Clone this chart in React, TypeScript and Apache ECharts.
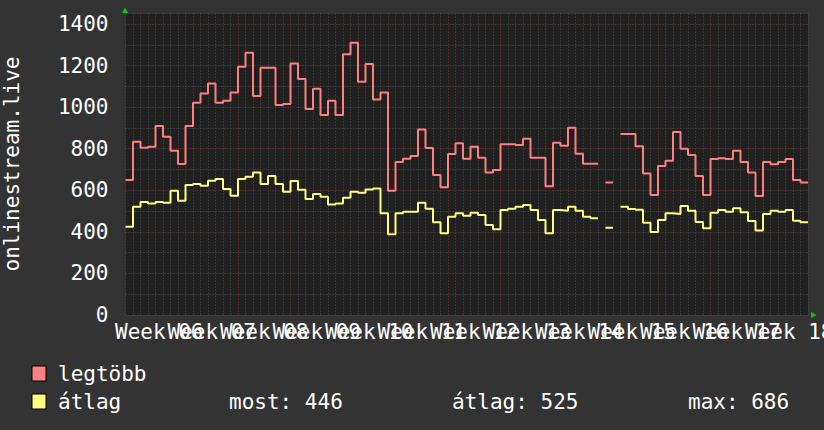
import React, { useEffect, useRef } from "react";
import * as echarts from "echarts";

// daily values, one per day (null = no data)
const legtobb: (number | null)[] = [
  650, 834, 805, 810, 909, 858, 790, 726, 909, 1021,
  1066, 1114, 1021, 1031, 1071, 1194, 1262, 1053, 1190, 1190,
  1010, 1015, 1210, 1135, 991, 1089, 962, 1031, 962, 1255,
  1310, 1122, 1207, 1037, 1071, 598, 736, 752, 765, 893,
  803, 673, 614, 774, 826, 752, 810, 757, 686, 697,
  822, 822, 818, 848, 757, 757, 620, 829, 814, 901,
  776, 728, 728, null, 638, null, 871, 871, 812, 681,
  577, 717, 742, 880, 800, 770, 669, 577, 750, 754,
  750, 790, 736, 686, 572, 736, 725, 736, 750, 649, 638,
];
const atlag: (number | null)[] = [
  425, 521, 544, 537, 544, 540, 598, 550, 625, 630,
  622, 646, 654, 606, 574, 654, 665, 686, 630, 669,
  630, 593, 645, 603, 558, 582, 569, 532, 537, 564,
  593, 588, 604, 608, 489, 388, 489, 497, 497, 540,
  511, 446, 393, 473, 490, 477, 492, 481, 433, 412,
  505, 511, 521, 529, 505, 457, 393, 505, 502, 521,
  502, 473, 465, null, 420, null, 521, 510, 506, 444,
  399, 457, 489, 486, 524, 502, 447, 417, 492, 505,
  497, 513, 494, 452, 406, 486, 502, 497, 505, 454, 446,
];
const weekLabels = [
  "Week 06", "Week 07", "Week 08", "Week 09", "Week 10", "Week 11", "Week 12",
  "Week 13", "Week 14", "Week 15", "Week 16", "Week 17", "Week 18",
];
const yTicks = [0, 200, 400, 600, 800, 1000, 1200, 1400];
const stats = { most: 446, atlag: 525, max: 686 };

const FONT = '21px "DejaVu Sans Mono"';
const RED = "#ff8080";
const YELLOW = "#ffff80";
const GRID_MINOR = "#505050";
const GRID_MAJOR = "#7a3838";

// turn daily values into a step line: each day covers [i, i+1]
function steps(vals: (number | null)[]) {
  const out: any[] = [];
  vals.forEach((v, i) => {
    if (v == null) {
      out.push([i + 0.5, null]);
      return;
    }
    out.push([i, v], [i + 1, v]);
  });
  return out;
}

const App: React.FC = () => {
  const chartRef = useRef<HTMLDivElement | null>(null);

  useEffect(() => {
    if (!chartRef.current) return;
    const chart = echarts.init(chartRef.current, null, { renderer: "svg" });

    const dayCount = legtobb.length;

    const baseGraphic: any[] = [
      {
        type: "text",
        x: 12,
        y: 164,
        rotation: Math.PI / 2,
        style: {
          text: "onlinestream.live",
          font: FONT,
          fill: "#ffffff",
          textAlign: "center",
          textVerticalAlign: "middle",
        },
      },
      // axis arrows
      {
        type: "polygon",
        shape: { points: [[122, 13], [128, 13], [125, 7.5]] },
        style: { fill: "#00cc00" },
      },
      {
        type: "polygon",
        shape: { points: [[811, 312], [811, 318], [816.5, 315]] },
        style: { fill: "#00cc00" },
      },
      // legend
      {
        type: "rect",
        shape: { x: 32, y: 366, width: 14, height: 15 },
        style: { fill: RED, stroke: "#000000", lineWidth: 1 },
      },
      {
        type: "text",
        x: 58,
        y: 374,
        style: { text: "legtöbb", font: FONT, fill: "#ffffff", textVerticalAlign: "middle" },
      },
      {
        type: "rect",
        shape: { x: 32, y: 394, width: 14, height: 15 },
        style: { fill: YELLOW, stroke: "#000000", lineWidth: 1 },
      },
      {
        type: "text",
        x: 58,
        y: 402,
        style: { text: "átlag", font: FONT, fill: "#ffffff", textVerticalAlign: "middle" },
      },
      {
        type: "text",
        x: 229,
        y: 402,
        style: { text: `most: ${stats.most}`, font: FONT, fill: "#ffffff", textVerticalAlign: "middle" },
      },
      {
        type: "text",
        x: 452,
        y: 402,
        style: { text: `átlag: ${stats.atlag}`, font: FONT, fill: "#ffffff", textVerticalAlign: "middle" },
      },
      {
        type: "text",
        x: 688,
        y: 402,
        style: { text: `max: ${stats.max}`, font: FONT, fill: "#ffffff", textVerticalAlign: "middle" },
      },
    ];

    const option = {
      animation: false,
      backgroundColor: "#333333",
      grid: {
        left: 125.5,
        right: 824 - 808,
        top: 13.6,
        bottom: 115,
        show: true,
        backgroundColor: "#202020",
        borderWidth: 0,
      },
      xAxis: {
        type: "value",
        min: 0,
        max: dayCount,
        interval: 1,
        axisLine: { show: false },
        axisTick: { show: false },
        axisLabel: { show: false },
        splitLine: {
          show: true,
          lineStyle: {
            type: [1, 2],
            width: 1,
            color: [GRID_MINOR, GRID_MAJOR, GRID_MINOR, GRID_MINOR, GRID_MINOR, GRID_MINOR, GRID_MINOR],
          },
        },
      },
      yAxis: {
        type: "value",
        min: 0,
        max: 1450,
        interval: 100,
        axisLine: { show: false },
        axisTick: { show: false },
        axisLabel: {
          color: "#ffffff",
          fontFamily: "DejaVu Sans Mono",
          fontSize: 21,
          margin: 17,
          formatter: (v: number) => (yTicks.includes(v) ? String(v) : ""),
        },
        splitLine: {
          show: true,
          lineStyle: { type: [1, 2], width: 1, color: [GRID_MAJOR, GRID_MINOR] },
        },
      },
      series: [
        {
          name: "legtöbb",
          type: "line",
          data: steps(legtobb),
          showSymbol: false,
          connectNulls: false,
          lineStyle: { color: RED, width: 2 },
          itemStyle: { color: RED },
        },
        {
          name: "átlag",
          type: "line",
          data: steps(atlag),
          showSymbol: false,
          connectNulls: false,
          lineStyle: { color: YELLOW, width: 2 },
          itemStyle: { color: YELLOW },
        },
      ],
      graphic: baseGraphic,
    };

    chart.setOption(option as any);

    // week labels centred in each week, placed through the x axis scale
    const yBase = chart.convertToPixel({ yAxisIndex: 0 }, 0) as number;
    const weekTexts = weekLabels.map((label, i) => ({
      type: "text",
      x: chart.convertToPixel({ xAxisIndex: 0 }, 4.5 + 7 * i) as number,
      y: yBase + 6,
      style: { text: label, font: FONT, fill: "#ffffff", textAlign: "center", textVerticalAlign: "top" },
    }));
    chart.setOption({ graphic: [...baseGraphic, ...weekTexts] } as any);

    const handleResize = () => chart.resize();
    window.addEventListener("resize", handleResize);
    return () => {
      window.removeEventListener("resize", handleResize);
      chart.dispose();
    };
  }, []);

  return (
    <div
      ref={chartRef}
      style={{ position: "absolute", left: 0, top: 0, width: "824px", height: "430px" }}
    />
  );
};

export default App;
